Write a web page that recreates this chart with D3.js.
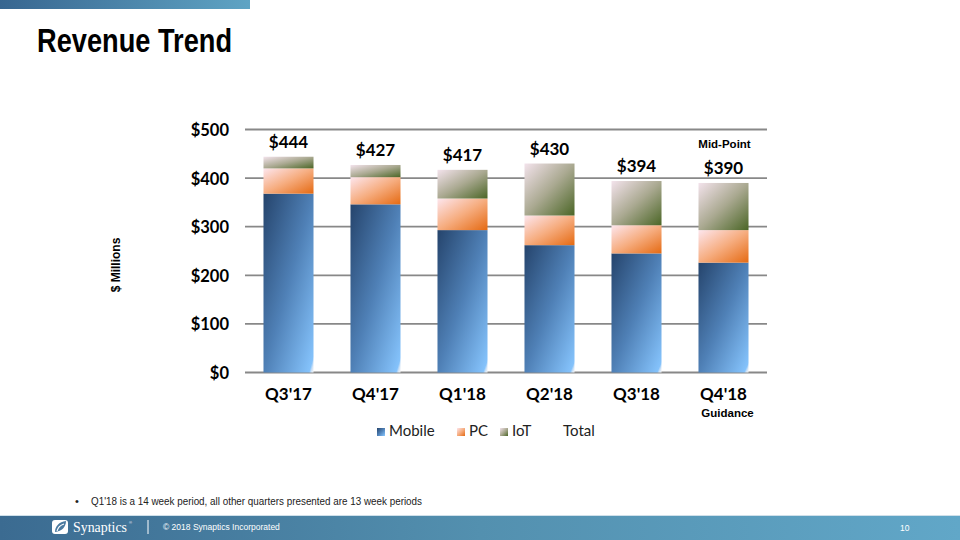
<!DOCTYPE html>
<html>
<head>
<meta charset="utf-8">
<script src="https://cdn.jsdelivr.net/npm/d3@7"></script>
<style>
html,body{margin:0;padding:0;background:#fff;}
svg{display:block;}
</style>
</head>
<body>
<svg id="chart" width="960" height="540"></svg>
<script>
// ---- data ----
const categories = ["Q3'17", "Q4'17", "Q1'18", "Q2'18", "Q3'18", "Q4'18"];
const mobile = [368, 346, 293, 262, 245, 226];
const pc = [52, 56, 65, 61, 58, 67];
const iot = [24, 25, 59, 107, 91, 97];
const totals = [444, 427, 417, 430, 394, 390];
const seriesNames = ["Mobile", "PC", "IoT"];
const legendNames = ["Mobile", "PC", "IoT", "Total"];
const yTicks = [0, 100, 200, 300, 400, 500];

const svg = d3.select("#chart");
const defs = svg.append("defs");

function grad(id, stops, x2, y2) {
  const g = defs.append("linearGradient").attr("id", id)
    .attr("x1", 0).attr("y1", 0).attr("x2", x2).attr("y2", y2);
  stops.forEach(s => g.append("stop").attr("offset", s[0]).attr("stop-color", s[1]));
}
grad("gMobile", [[0, "#25446c"], [0.5, "#4f80b6"], [0.955, "#84c2fb"], [0.975, "#cfe3f7"], [1, "#f4f4f4"]], 1, 1);
grad("gPC", [[0, "#fde6ee"], [0.5, "#f6ad80"], [1, "#e56a12"]], 1, 1);
grad("gIoT", [[0, "#f3e3ec"], [0.5, "#aaa991"], [1, "#4b6626"]], 1, 1);
grad("gTop", [[0, "#386690"], [1, "#5fa4c4"]], 1, 0);
grad("gFoot", [[0, "#3b6b91"], [0.5, "#5390af"], [1, "#61a7c8"]], 1, 0);
const fills = {Mobile: "url(#gMobile)", PC: "url(#gPC)", IoT: "url(#gIoT)"};

// ---- slide decorations ----
svg.append("rect").attr("x", 0).attr("y", 0).attr("width", 250).attr("height", 9).attr("fill", "url(#gTop)");
svg.append("text").attr("x", 37).attr("y", 52)
  .attr("font-family", "'Liberation Sans Narrow','Liberation Sans',Arial,sans-serif")
  .attr("font-weight", "bold").attr("font-size", 33)
  .attr("textLength", 195).attr("lengthAdjust", "spacingAndGlyphs")
  .attr("fill", "#000").text("Revenue Trend");

// ---- scales ----
const x = d3.scaleBand().domain(categories).range([245, 767]).paddingInner(0.425).paddingOuter(0.2125);
const y = d3.scaleLinear().domain([0, 500]).range([372.5, 129.5]);

// gridlines
const grid = svg.append("g");
grid.selectAll("line").data(yTicks).join("line")
  .attr("x1", 245).attr("x2", 767)
  .attr("y1", d => y(d)).attr("y2", d => y(d))
  .attr("stroke", "#888").attr("stroke-width", 1.8);

// y axis labels via d3 axis
const yAxis = d3.axisLeft(y).tickValues(yTicks).tickFormat(d => "$" + d).tickSize(0).tickPadding(0);
const ya = svg.append("g").attr("transform", "translate(229,0)").call(yAxis);
ya.select(".domain").remove();
ya.selectAll("text").attr("font-family", "Lato, 'Open Sans', sans-serif").attr("font-weight", "bold")
  .attr("font-size", 16.5).attr("fill", "#000").attr("dy", "0.36em");

// x axis labels
const xAxis = d3.axisBottom(x).tickSize(0).tickPadding(0);
const xa = svg.append("g").attr("transform", "translate(0,400)").call(xAxis);
xa.select(".domain").remove();
xa.selectAll("text").attr("font-family", "Lato, 'Open Sans', sans-serif").attr("font-weight", "bold")
  .attr("font-size", 17).attr("fill", "#000").attr("dy", 0);

// ---- stacked bars ----
const rows = categories.map((c, i) => ({cat: c, Mobile: mobile[i], PC: pc[i], IoT: iot[i]}));
const stacked = d3.stack().keys(seriesNames)(rows);
svg.append("g").selectAll("g").data(stacked).join("g")
  .attr("fill", d => fills[d.key])
  .selectAll("rect").data(d => d).join("rect")
  .attr("x", d => x(d.data.cat))
  .attr("width", x.bandwidth())
  .attr("y", d => y(d[1]))
  .attr("height", d => y(d[0]) - y(d[1]));

// total labels
svg.append("g").selectAll("text").data(totals).join("text")
  .attr("x", (d, i) => x(categories[i]) + x.bandwidth() / 2)
  .attr("y", d => y(d) - 9)
  .attr("text-anchor", "middle")
  .attr("font-family", "Lato, 'Open Sans', sans-serif").attr("font-weight", "bold")
  .attr("font-size", 17).attr("fill", "#000")
  .text(d => "$" + d);

// Mid-Point / Guidance annotations
const lastCx = x(categories[5]) + x.bandwidth() / 2;
svg.append("text").attr("x", lastCx + 1).attr("y", 148).attr("text-anchor", "middle")
  .attr("font-family", "'Liberation Sans',Arial,sans-serif").attr("font-weight", "bold")
  .attr("font-size", 11.5).attr("fill", "#000").text("Mid-Point");
svg.append("text").attr("x", lastCx + 4).attr("y", 417).attr("text-anchor", "middle")
  .attr("font-family", "'Liberation Sans',Arial,sans-serif").attr("font-weight", "bold")
  .attr("font-size", 11.5).attr("fill", "#000").text("Guidance");

// y axis title
svg.append("text").attr("transform", "translate(120,265) rotate(-90)").attr("text-anchor", "middle")
  .attr("font-family", "'Liberation Sans',Arial,sans-serif").attr("font-weight", "bold")
  .attr("font-size", 12).attr("fill", "#000").text("$ Millions");

// legend
const legendX = [377, 457, 500, 563];
const lg = svg.append("g").selectAll("g").data(legendNames).join("g")
  .attr("transform", (d, i) => `translate(${legendX[i]},428)`);
lg.filter(d => d !== "Total").append("rect").attr("width", 8).attr("height", 8)
  .attr("fill", d => fills[d]);
lg.append("text").attr("x", d => d === "Total" ? 0 : 12).attr("y", 8)
  .attr("font-family", "Lato, 'Open Sans', sans-serif").attr("font-size", 15).attr("fill", "#222")
  .text(d => d);

// footnote
svg.append("text").attr("x", 75).attr("y", 505)
  .attr("font-family", "'Liberation Sans',Arial,sans-serif").attr("font-size", 11).attr("fill", "#222").text("•");
svg.append("text").attr("x", 91).attr("y", 505)
  .attr("font-family", "'Liberation Sans',Arial,sans-serif").attr("font-size", 11).attr("fill", "#222")
  .attr("textLength", 331).attr("lengthAdjust", "spacingAndGlyphs")
  .text("Q1'18 is a 14 week period, all other quarters presented are 13 week periods");

// footer band
svg.append("rect").attr("x", 0).attr("y", 516).attr("width", 960).attr("height", 24).attr("fill", "url(#gFoot)");
svg.append("line").attr("x1", 0).attr("x2", 960).attr("y1", 515.5).attr("y2", 515.5).attr("stroke", "#cfe0ea").attr("stroke-width", 1);
// logo icon
svg.append("rect").attr("x", 52).attr("y", 520).attr("width", 16).attr("height", 14).attr("rx", 3)
  .attr("fill", "#fff");
svg.append("path").attr("d", "M55,532 C55,526 59,522 66,521 C66,527 62,531 55,532 Z")
  .attr("fill", "#4a7aa0");
svg.append("path").attr("d", "M57,531 C58,527 61,525 64,524").attr("stroke", "#fff").attr("fill", "none").attr("stroke-width", 1.2);
svg.append("text").attr("x", 73).attr("y", 532)
  .attr("font-family", "'Liberation Serif','DejaVu Serif',serif").attr("font-size", 14.5).attr("fill", "#fff")
  .attr("textLength", 54).attr("lengthAdjust", "spacingAndGlyphs")
  .text("Synaptics");
svg.append("text").attr("x", 129).attr("y", 524)
  .attr("font-family", "'Liberation Sans',Arial,sans-serif").attr("font-size", 4).attr("fill", "#fff").text("®");
svg.append("line").attr("x1", 148).attr("x2", 148).attr("y1", 520).attr("y2", 534)
  .attr("stroke", "#fff").attr("stroke-width", 1);
svg.append("text").attr("x", 163).attr("y", 530)
  .attr("font-family", "'Liberation Sans',Arial,sans-serif").attr("font-size", 8.5).attr("fill", "#fff")
  .text("© 2018 Synaptics Incorporated");
svg.append("text").attr("x", 900).attr("y", 531)
  .attr("font-family", "'Liberation Sans',Arial,sans-serif").attr("font-size", 8.5).attr("fill", "#fff")
  .text("10");
</script>
</body>
</html>
